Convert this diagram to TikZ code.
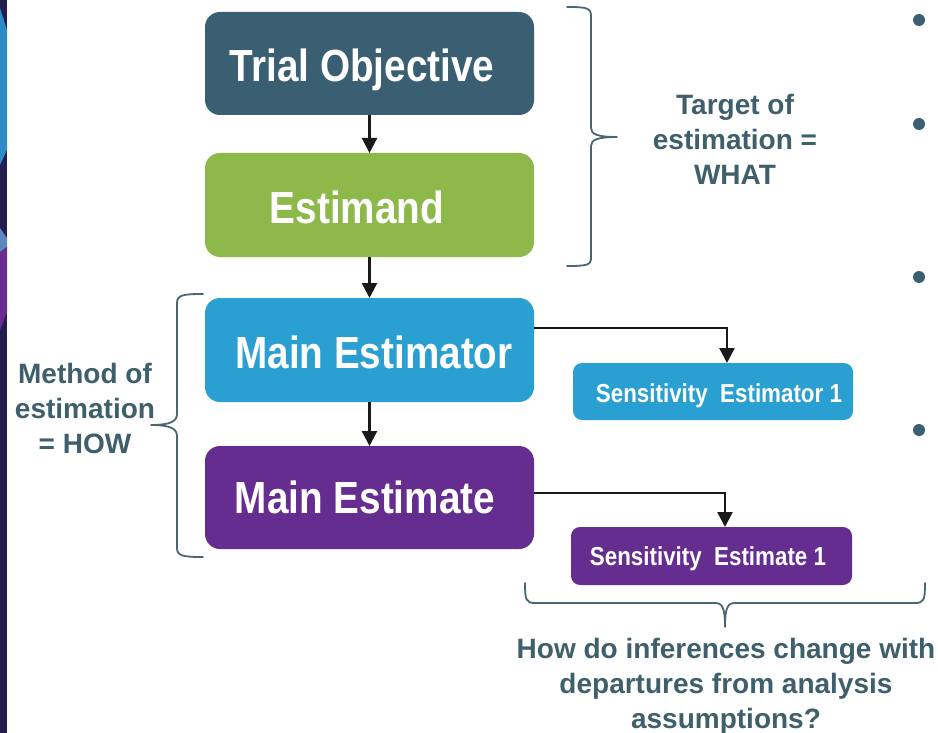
\documentclass[tikz,border=0pt]{standalone}
\usepackage{fontspec}
\setmainfont{Liberation Sans}
\newfontfamily\narrowfont{Liberation Sans}[FakeStretch=0.86]
\usetikzlibrary{arrows.meta}

\definecolor{slateblue}{HTML}{3B5F72}
\definecolor{leafgreen}{HTML}{8DB94B}
\definecolor{skyblue}{HTML}{2A9FD2}
\definecolor{royalpurple}{HTML}{662D91}
\definecolor{labeltext}{HTML}{3E5F6B}
\definecolor{bracecol}{HTML}{4B6670}
\definecolor{stripnavy}{HTML}{231D50}
\definecolor{stripblue}{HTML}{2A8DC4}
\definecolor{striplight}{HTML}{5B88C0}
\definecolor{strippurple}{HTML}{6A2C91}

\tikzset{
  bigbox/.style={draw=none, inner sep=0pt, outer sep=0pt, rounded corners=15pt,
    minimum width=329pt, minimum height=103pt},
  smallbox/.style={draw=none, inner sep=0pt, outer sep=0pt, rounded corners=9pt,
    minimum height=57pt},
  bigtext/.style={text=white, anchor=base, inner sep=0pt,
    font=\narrowfont\bfseries\fontsize{45}{50}\selectfont},
  smalltext/.style={text=white, anchor=base, inner sep=0pt,
    font=\narrowfont\bfseries\fontsize{26}{30}\selectfont},
  sidelabel/.style={text=labeltext, align=center, inner sep=0pt,
    font=\bfseries\fontsize{28}{35}\selectfont},
  flow/.style={line width=2.4pt, draw=black!90,
    -{Triangle[length=15pt,width=15pt]}},
  bracket/.style={line width=1.8pt, draw=bracecol, line cap=round, line join=round},
  bullet/.style={circle, fill=slateblue, inner sep=0pt, minimum size=12pt}
}

\begin{document}
\begin{tikzpicture}[x=1pt, y=-1pt]
  \useasboundingbox (0,0) rectangle (938,733);
  \fill[white] (0,0) rectangle (938,733);

  % decorative strip on the left edge
  \fill[stripnavy] (0,0) rectangle (7,733);
  \fill[stripblue] (0,8) -- (7,30) -- (7,150) -- (0,165) -- cycle;
  \fill[striplight] (0,228) -- (7,238) -- (7,247) -- (0,252) -- cycle;
  \fill[strippurple] (0,252) -- (7,247) -- (7,312) -- (0,330) -- cycle;

  % main flow boxes
  \node[bigbox, fill=slateblue]  (objective) at (369.5,63.5) {};
  \node[bigbox, fill=leafgreen, minimum height=104pt] (estimand) at (369.5,205) {};
  \node[bigbox, fill=skyblue, minimum height=104pt]   (estimator) at (369.5,350) {};
  \node[bigbox, fill=royalpurple] (estimate) at (369.5,497.5) {};

  \node[bigtext] (objectivetxt) at (362,82) {Trial Objective};
  \node[bigtext] (estimandtxt) at (357,223) {Estimand};
  \node[bigtext] (estimatortxt) at (374,368) {Main Estimator};
  \node[bigtext] (estimatetxt) at (365,513) {Main Estimate};

  % sensitivity boxes
  \node[smallbox, fill=skyblue, minimum width=280pt] (sensor) at (713,391.5) {};
  \node[smallbox, fill=royalpurple, minimum width=281pt, minimum height=58pt] (sensate) at (711.5,556) {};
  \node[smalltext] (sensortxt) at (719,402) {Sensitivity\ \ Estimator 1};
  \node[smalltext] (sensatetxt) at (708,565) {Sensitivity\ \ Estimate 1};

  % connectors
  \draw[flow] (objective) -- (estimand);
  \draw[flow] (estimand) -- (estimator);
  \draw[flow] (estimator) -- (estimate);
  \draw[flow] ([yshift=22pt]estimator.east) -| ([xshift=14pt]sensor.north);
  \draw[flow] ([yshift=4.5pt]estimate.east) -| ([xshift=13.5pt]sensate.north);

  % brace grouping the target of estimation
  \draw[bracket] (567,7) .. controls (587,7) and (591,8) .. (591,16)
    -- (591,128) .. controls (591,134) and (597,137) .. (617,137)
    .. controls (597,137) and (591,140) .. (591,146)
    -- (591,258) .. controls (591,265) and (587,266) .. (567,266);

  % brace grouping the method of estimation
  \draw[bracket] (203,294) .. controls (183,294) and (177,295) .. (177,303)
    -- (177,414) .. controls (177,421) and (171,425) .. (151,425)
    .. controls (171,425) and (177,429) .. (177,436)
    -- (177,548) .. controls (177,556) and (183,557) .. (203,557);

  % brace under the sensitivity boxes
  \draw[bracket] (525,583) .. controls (525,600) and (526,603) .. (535,603)
    -- (715,603) .. controls (722,603) and (725,607) .. (725,627)
    .. controls (725,607) and (728,603) .. (735,603)
    -- (915,603) .. controls (924,603) and (925,600) .. (925,583);

  % side labels
  \node[sidelabel] (whatlbl) at (735,139) {Target of\\estimation =\\WHAT};
  \node[sidelabel] (howlbl) at (85,408) {Method of\\estimation\\= HOW};
  \node[sidelabel] (sensitivitylbl) at (726,686) {How do inferences change with\\departures from analysis\\assumptions?};

  % bullets along the right edge
  \node[bullet] (b1) at (919,20) {};
  \node[bullet] (b2) at (919,124) {};
  \node[bullet] (b3) at (919,277) {};
  \node[bullet] (b4) at (919,430) {};
\end{tikzpicture}
\end{document}
